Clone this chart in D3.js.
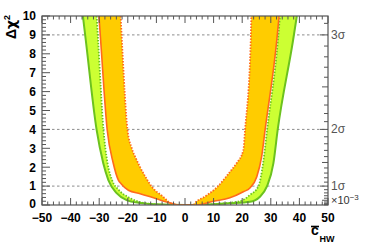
<!DOCTYPE html>
<html>
<head>
<meta charset="utf-8">
<script src="https://cdn.jsdelivr.net/npm/d3@7"></script>
<style>
  body { margin: 0; background: #fff; }
  svg { display: block; }
  text { font-family: "Liberation Sans", Arial, Helvetica, sans-serif; }
</style>
</head>
<body>
<svg id="chart" width="366" height="248"></svg>
<script>
let greenOuter = [[-35.7, 10], [-34.7, 8.73], [-30.9, 3.97], [-28.6, 2.22], [-26.8, 1.32], [-23.9, 0.63],
  [-20.4, 0.26], [-15.7, 0.11], [-10, 0.04], [0, 0], [10, 0.04], [15.7, 0.09], [22.7, 0.17],
  [26.2, 0.44], [28.6, 0.97], [30.9, 2.2], [32.4, 3.97], [37.8, 8.73], [39.1, 10]];
let greenInner = [[-30.9, 10], [-30.4, 8.73], [-28.5, 3.97], [-27.1, 2.22], [-25.5, 1.32], [-23.1, 0.79],
  [-19.3, 0.37], [-14, 0.1], [-6, 0], [6, 0], [10.5, 0.05], [19.2, 0.2], [22.7, 0.53],
  [25.7, 1.0], [27.3, 2.2], [28.7, 3.97], [32.5, 8.73], [33.2, 10]];
let orangeOuter = [[-30.1, 10], [-29.5, 8.73], [-27.2, 3.97], [-25.1, 2.22], [-23.3, 1.32], [-22.2, 1.1],
  [-19.8, 0.78], [-15.7, 0.6], [-10, 0.33], [-5, 0.1], [-2, 0], [4, 0], [10, 0.2], [15.7, 0.38],
  [20.4, 0.7], [22.7, 0.9], [25.1, 1.5], [26.8, 2.56], [28, 3.97], [32.1, 8.73], [32.9, 10]];
let orangeInner = [[-22.5, 10], [-21.9, 8.2], [-20.1, 3.97], [-18.6, 3.0], [-16.9, 2.38], [-15.7, 2.0],
  [-13.6, 1.43], [-11.5, 0.94], [-8.0, 0.48], [-4.5, 0.05], [-3, 0], [3, 0], [3.5, 0.1], [7, 0.45],
  [11.2, 0.94], [15.7, 1.75], [18.1, 2.22], [20.4, 2.9], [21.0, 3.97], [23.0, 8.73], [23.2, 10]];

let xTickLabels = [-50, -40, -30, -20, -10, 0, 10, 20, 30, 40, 50];
let yTickLabels = [0, 1, 2, 3, 4, 5, 6, 7, 8, 9, 10];
let gridLevels = [1, 4, 9];
let sigmaLevels = [1, 2, 3];

let padLeft = 42, padRight = 328, padTop = 16, padBottom = 205;

let xScale = d3.scaleLinear().domain([-50, 50]).range([padLeft, padRight]);
let yScale = d3.scaleLinear().domain([0, 10]).range([padBottom, padTop]);

let svg = d3.select("#chart");
let axisColor = "#555";

svg.append("defs").append("clipPath").attr("id", "plot")
  .append("rect")
  .attr("x", padLeft).attr("y", padTop)
  .attr("width", padRight - padLeft).attr("height", padBottom - padTop);

// dashed 1/2/3 sigma lines
svg.append("g").selectAll("line")
  .data(gridLevels)
  .enter().append("line")
    .attr("x1", padLeft).attr("x2", padRight)
    .attr("y1", d => yScale(d)).attr("y2", d => yScale(d))
    .attr("stroke", "#8c8c8c")
    .attr("stroke-dasharray", "2.5,2.5");

let line = d3.line()
  .x(d => xScale(d[0]))
  .y(d => yScale(d[1]))
  .curve(d3.curveMonotoneX);

let plot = svg.append("g").attr("clip-path", "url(#plot)");

let band = function(outer, inner, fill) {
  plot.append("path")
    .attr("d", line(outer) + "Z" + line(inner) + "Z")
    .attr("fill", fill)
    .attr("fill-rule", "evenodd");
};

let curve = function(pts, color, w, dash) {
  plot.append("path")
    .attr("d", line(pts))
    .attr("fill", "none")
    .attr("stroke", color)
    .attr("stroke-width", w)
    .attr("stroke-dasharray", dash);
};

band(greenOuter, greenInner, "#ccff33");
curve(greenOuter, "#6cc21e", 2, null);
curve(greenInner, "#6cc21e", 1.8, "1.5,1.5");
band(orangeOuter, orangeInner, "#ffcc00");
curve(orangeOuter, "#ff6a1c", 1.6, null);
curve(orangeInner, "#ff6a1c", 1.8, "1.5,1.5");

// frame
svg.append("rect")
  .attr("x", padLeft).attr("y", padTop)
  .attr("width", padRight - padLeft).attr("height", padBottom - padTop)
  .attr("fill", "none").attr("stroke", axisColor).attr("stroke-width", 1.2);

let ticks = svg.append("g").attr("stroke", axisColor).attr("stroke-width", 1);

// x ticks, bottom and top, pointing inwards
d3.range(-50, 50.01, 2).forEach(function(v) {
  let len = Math.abs(v % 10) < 1e-9 ? 7 : 3.5;
  let x = xScale(v);
  ticks.append("line").attr("x1", x).attr("x2", x).attr("y1", padBottom).attr("y2", padBottom - len);
  ticks.append("line").attr("x1", x).attr("x2", x).attr("y1", padTop).attr("y2", padTop + len);
});

// y ticks on the left
d3.range(0, 10.001, 0.2).forEach(function(v) {
  let len = Math.abs(v - Math.round(v)) < 1e-6 ? 8 : 4;
  let y = yScale(v);
  ticks.append("line").attr("x1", padLeft).attr("x2", padLeft + len).attr("y1", y).attr("y2", y);
});

// sigma axis on the right: ticks every 0.1 sigma, at delta chi^2 = sigma^2
d3.range(1, 32).map(i => i / 10).filter(s => s * s <= 10).forEach(function(s) {
  let major = Math.abs(s - Math.round(s)) < 1e-6;
  let mid = Math.abs(s * 2 - Math.round(s * 2)) < 1e-6;
  let len = major ? 8 : (mid ? 6 : 4);
  let y = yScale(s * s);
  ticks.append("line").attr("x1", padRight).attr("x2", padRight - len).attr("y1", y).attr("y2", y);
});

let fmt = d => d < 0 ? "\u2212" + Math.abs(d) : String(d);

svg.append("g").selectAll("text")
  .data(xTickLabels)
  .enter().append("text")
    .attr("x", d => xScale(d))
    .attr("y", 222)
    .attr("text-anchor", "middle")
    .attr("font-size", 12)
    .attr("font-weight", "bold")
    .text(fmt);

svg.append("g").selectAll("text")
  .data(yTickLabels)
  .enter().append("text")
    .attr("x", 36)
    .attr("y", d => yScale(d) + (d === 0 ? 3 : 4.3))
    .attr("text-anchor", "end")
    .attr("font-size", 12)
    .attr("font-weight", "bold")
    .text(d => d);

svg.append("g").selectAll("text")
  .data(sigmaLevels)
  .enter().append("text")
    .attr("x", 331)
    .attr("y", d => yScale(d * d) + 4)
    .attr("font-size", 12)
    .attr("fill", "#555")
    .text(d => d + "\u03c3");

let mult = svg.append("text")
  .attr("x", 331).attr("y", 204)
  .attr("font-size", 11)
  .attr("fill", "#333");
mult.append("tspan").text("\u00d710");
mult.append("tspan").attr("font-size", 8).attr("dy", -4).text("\u22123");

// y title
let yTitle = svg.append("text")
  .attr("transform", "translate(16,15) rotate(-90)")
  .attr("text-anchor", "end")
  .attr("font-size", 14)
  .attr("font-weight", "bold");
yTitle.append("tspan").text("\u0394");
yTitle.append("tspan").attr("font-family", "DejaVu Sans").text("\u03c7");
yTitle.append("tspan").attr("font-size", 9).attr("dy", -6).text("2");

// x title with overbar
let cText = svg.append("text")
  .attr("x", 311).attr("y", 235)
  .attr("font-size", 14)
  .attr("font-weight", "bold")
  .text("c");
svg.append("text")
  .attr("x", 319.5).attr("y", 242)
  .attr("font-size", 9)
  .attr("font-weight", "bold")
  .text("HW");
let cBox = cText.node().getBBox();
svg.append("line")
  .attr("x1", cBox.x).attr("x2", cBox.x + cBox.width)
  .attr("y1", 226.5).attr("y2", 226.5)
  .attr("stroke", "#000").attr("stroke-width", 1.6);
</script>
</body>
</html>
